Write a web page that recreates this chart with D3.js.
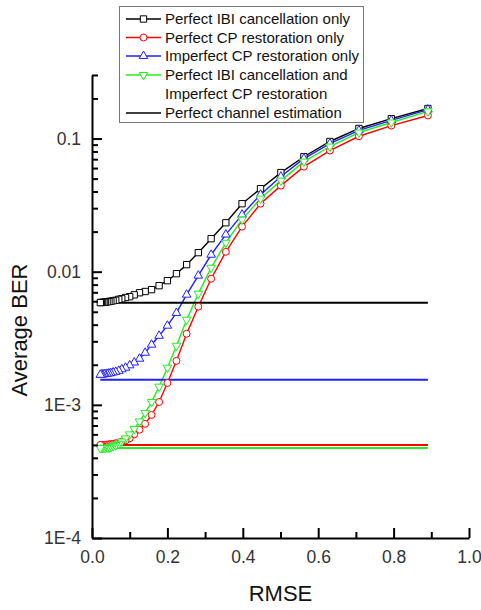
<!DOCTYPE html>
<html lang="en">
<head>
<meta charset="UTF-8">
<title>Average BER vs RMSE</title>
<style>
  body { margin: 0; background: #fff; }
  svg { display: block; font-family: "Liberation Sans", Arial, sans-serif; }
  .tick text { fill: #333; font-size: 17.5px; }
  .axis path, .axis line { stroke: #000; stroke-width: 2px; }
  .axis-title { font-size: 22px; fill: #111; }
  .legend text { font-size: 15px; fill: #111; }
</style>
</head>
<body>
<svg id="chart" width="481" height="610"></svg>
<script src="https://d3js.org/d3.v7.min.js"></script>
<script>
// RMSE sample points (shared by every curve)
const rmse = [0.891, 0.794, 0.708, 0.631, 0.562, 0.501, 0.447, 0.398, 0.355, 0.316,
              0.282, 0.251, 0.224, 0.200, 0.178, 0.158, 0.141, 0.126, 0.112, 0.100,
              0.089, 0.079, 0.071, 0.063, 0.056, 0.050, 0.045, 0.040, 0.035, 0.032,
              0.028, 0.025, 0.022];

const berIBI = [0.168, 0.141, 0.119, 0.095, 0.073, 0.0555, 0.042, 0.0324, 0.0233, 0.0177,
                0.0139, 0.0113, 0.00966, 0.00856, 0.00785, 0.00733, 0.0071, 0.00695, 0.0067, 0.00649,
                0.0064, 0.00626, 0.0062, 0.0061, 0.00605, 0.006, 0.00597, 0.00594, 0.0059, 0.0059,
                0.00588, 0.00587, 0.00586];
const berCP = [0.149, 0.125, 0.104, 0.0812, 0.0615, 0.0443, 0.0324, 0.0218, 0.0141, 0.00885,
               0.00546, 0.00342, 0.00214, 0.00146, 0.00105, 0.00084, 0.00072, 0.00065, 0.0006, 0.00056,
               0.00054, 0.00053, 0.00052, 0.000515, 0.00051, 0.000508, 0.000505, 0.000503, 0.000502, 0.000501,
               0.0005, 0.0005, 0.0005];
const berImpCP = [0.165, 0.137, 0.115, 0.0917, 0.0707, 0.0518, 0.0379, 0.0268, 0.019, 0.0134,
                  0.00934, 0.00672, 0.0049, 0.00393, 0.0033, 0.00283, 0.00246, 0.00222, 0.00208, 0.00198,
                  0.0019, 0.00185, 0.0018, 0.00177, 0.00175, 0.00173, 0.00172, 0.00171, 0.0017, 0.0017,
                  0.00169, 0.00169, 0.00168];
const berBoth = [0.160, 0.132, 0.111, 0.0871, 0.0671, 0.0483, 0.0354, 0.0246, 0.0165, 0.0107,
                 0.00684, 0.00436, 0.00278, 0.0019, 0.00137, 0.00105, 0.00087, 0.00075, 0.00066, 0.0006,
                 0.00056, 0.00053, 0.00051, 0.0005, 0.00049, 0.00048, 0.000478, 0.000477, 0.000476, 0.000475,
                 0.000475, 0.000474, 0.000474];

// perfect channel estimation reference levels
const refLevels = [0.00585, 0.0005, 0.00154, 0.000475];

const names = ["Perfect IBI cancellation only", "Perfect CP restoration only",
               "Imperfect CP restoration only", "Perfect IBI cancellation and",
               "Imperfect CP restoration", "Perfect channel estimation"];
const colors = ["#000000", "#ff0000", "#2020ff", "#22ee22"];
const symbols = ["square", "circle", "up", "down"];
const seriesValues = [berIBI, berCP, berImpCP, berBoth];

const xTicks = [0, 0.2, 0.4, 0.6, 0.8, 1.0];
const xMinor = [0.1, 0.3, 0.5, 0.7, 0.9];
const yTicks = [1e-4, 1e-3, 0.01, 0.1];
const yLabels = ["1E-4", "1E-3", "0.01", "0.1"];

const svg = d3.select("#chart");
const plotL = 92, plotR = 469, plotT = 75, plotB = 538;

const x = d3.scaleLinear().domain([0, 1]).range([plotL, plotR]);
const y = d3.scaleLog().domain([1e-4, 0.3]).range([plotB, plotT]);

const yMinor = [];
[1e-4, 1e-3, 1e-2, 1e-1].forEach(d => {
  for (let k = 2; k <= 9; k++) {
    const v = +(d * k).toPrecision(3);
    if (v <= 0.3) yMinor.push(v);
  }
});

// curves
const line = d3.line().x((d, i) => x(rmse[i])).y(d => y(d));

function symbolPath(kind) {
  if (kind === "square") return d3.symbol(d3.symbolSquare, 40)();
  if (kind === "circle") return d3.symbol(d3.symbolCircle, 38)();
  return d3.symbol(d3.symbolTriangle, 32)();
}

seriesValues.forEach((vals, s) => {
  svg.append("path")
    .attr("d", line(vals))
    .attr("fill", "none")
    .attr("stroke", colors[s])
    .attr("stroke-width", 1.4);
});

// horizontal reference lines
const xExtent = d3.extent(rmse);
refLevels.forEach((v, s) => {
  svg.append("line")
    .attr("x1", x(xExtent[0])).attr("x2", x(xExtent[1]))
    .attr("y1", y(v)).attr("y2", y(v))
    .attr("stroke", colors[s])
    .attr("stroke-width", 2);
});

seriesValues.forEach((vals, s) => {
  svg.append("g").selectAll("path")
    .data(vals)
    .join("path")
    .attr("d", symbolPath(symbols[s]))
    .attr("transform", (d, i) => `translate(${x(rmse[i])},${y(d)})` + (symbols[s] === "down" ? " rotate(180)" : ""))
    .attr("fill", "#fff")
    .attr("stroke", colors[s])
    .attr("stroke-width", 1);
});

// axes
svg.append("g").attr("class", "axis")
  .attr("transform", `translate(0,${plotB})`)
  .call(d3.axisBottom(x).tickValues(xMinor).tickSizeInner(-6).tickSizeOuter(0).tickFormat(""))
  .call(g => g.select(".domain").remove());
svg.append("g").attr("class", "axis")
  .attr("transform", `translate(0,${plotB})`)
  .call(d3.axisBottom(x).tickValues(xTicks).tickSizeInner(-10).tickSizeOuter(0)
        .tickPadding(13).tickFormat(d3.format(".1f")));

svg.append("g").attr("class", "axis")
  .attr("transform", `translate(${plotL},0)`)
  .call(d3.axisLeft(y).tickValues(yMinor).tickSizeInner(-6).tickSizeOuter(0).tickFormat(""))
  .call(g => g.select(".domain").remove());
svg.append("g").attr("class", "axis")
  .attr("transform", `translate(${plotL},0)`)
  .call(d3.axisLeft(y).tickValues(yTicks).tickSizeInner(-10).tickSizeOuter(0)
        .tickPadding(11).tickFormat((d, i) => yLabels[i]));

svg.selectAll(".axis").attr("font-family", null).attr("font-size", null);

svg.append("text").attr("class", "axis-title")
  .attr("x", (plotL + plotR) / 2).attr("y", 601)
  .attr("text-anchor", "middle")
  .text("RMSE");
svg.append("text").attr("class", "axis-title")
  .attr("transform", `translate(27,330) rotate(-90)`)
  .attr("text-anchor", "middle")
  .text("Average BER");

// legend
const lg = svg.append("g").attr("class", "legend");
lg.append("rect")
  .attr("x", 119.5).attr("y", 6.5).attr("width", 244).attr("height", 116)
  .attr("fill", "#fff").attr("stroke", "#777").attr("stroke-width", 1);

const rowY = [19, 37.5, 56, 75, 94, 113];
const rowKey = [0, 1, 2, 3, null, "ref"];
rowY.forEach((ry, r) => {
  const k = rowKey[r];
  if (k !== null) {
    const col = k === "ref" ? "#000" : colors[k];
    lg.append("line")
      .attr("x1", 126).attr("x2", 161).attr("y1", ry).attr("y2", ry)
      .attr("stroke", col).attr("stroke-width", 1.4);
    if (k !== "ref") {
      lg.append("path")
        .attr("d", symbolPath(symbols[k]))
        .attr("transform", `translate(143.5,${ry})` + (symbols[k] === "down" ? " rotate(180)" : ""))
        .attr("fill", "#fff").attr("stroke", col).attr("stroke-width", 1);
    }
  }
  lg.append("text")
    .attr("x", 165).attr("y", ry).attr("dy", "0.35em")
    .text(names[r]);
});
</script>
</body>
</html>
